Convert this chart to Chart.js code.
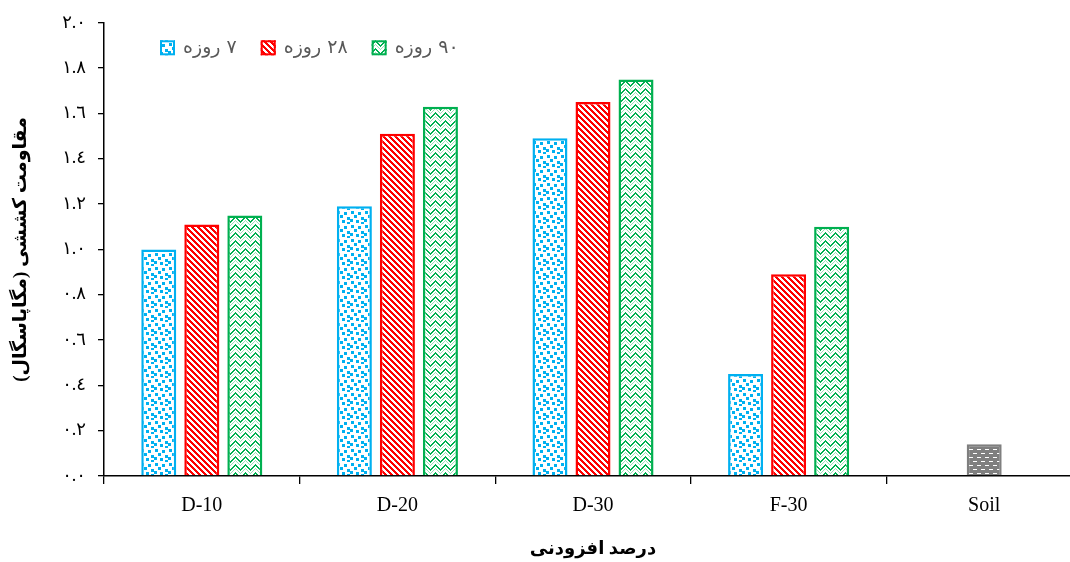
<!DOCTYPE html>
<html>
<head>
<meta charset="utf-8">
<script src="https://cdn.jsdelivr.net/npm/chart.js@4.4.1/dist/chart.umd.min.js"></script>
<style>
  html, body { margin: 0; padding: 0; background: #fff; overflow: hidden; }
  #wrap { width: 1090px; height: 562px; }
</style>
</head>
<body>
<div id="wrap"><canvas id="chart" width="1090" height="562"></canvas></div>
<script>
// tensile strength (MPa) by additive percent and curing age
const categories = ['D-10', 'D-20', 'D-30', 'F-30', 'Soil'];
const day7 = [1.00, 1.19, 1.49, 0.45, null];
const day28 = [1.11, 1.51, 1.65, 0.89, null];
const day90 = [1.15, 1.63, 1.75, 1.10, null];
const soil = [null, null, null, null, 0.14];
const seriesNames = ['٧ روزه', '٢٨ روزه', '٩٠ روزه', 'Soil'];
const arabicDigits = ['٠', '١', '٢', '٣', '٤', '٥', '٦', '٧', '٨', '٩'];

function toArabic(str) {
    return str.replace(/[0-9]/g, d => arabicDigits[+d]);
}

// small bitmap tiles used as bar fills
const helperCtx = document.createElement('canvas').getContext('2d');
function makePattern(w, h, bg, paint) {
    const c = document.createElement('canvas');
    c.width = w;
    c.height = h;
    const g = c.getContext('2d');
    g.fillStyle = bg;
    g.fillRect(0, 0, w, h);
    paint(g, w, h);
    return helperCtx.createPattern(c, 'repeat');
}

const confetti = makePattern(14, 14, '#ffffff', (g) => {
    g.fillStyle = '#00b0f0';
    [[1, 1], [8, 2], [4, 5], [11, 7], [0, 9], [6, 10], [11, 12]].forEach(p => {
        g.fillRect(p[0], p[1], 3, 3);
        if (p[0] + 3 > 14) g.fillRect(p[0] - 14, p[1], 3, 3);
    });
});

const stripes = makePattern(6, 6, '#ffffff', (g, w, h) => {
    g.fillStyle = '#ff0000';
    for (let y = 0; y < h; y++) {
        for (let x = 0; x < w; x++) {
            if (((x - y) % 6 + 6) % 6 < 3) g.fillRect(x, y, 1, 1);
        }
    }
});

const zigzag = makePattern(10, 8, '#ffffff', (g, w, h) => {
    for (let x = 0; x < w; x++) {
        const y0 = Math.abs(x - 5);
        g.fillStyle = '#00b050';
        g.fillRect(x, y0 % h, 1, 1);
        g.fillRect(x, (y0 + 1) % h, 1, 1);
        g.fillStyle = '#9ddfb7';
        g.fillRect(x, (y0 + 4) % h, 1, 1);
    }
});

const bricks = makePattern(8, 8, '#7f7f7f', (g) => {
    g.fillStyle = '#ffffff';
    g.fillRect(1, 1, 4, 1);
    g.fillRect(5, 5, 3, 1);
    g.fillRect(0, 5, 1, 1);
});

const fills = [confetti, stripes, zigzag, bricks];
const borders = ['#00b0f0', '#ff0000', '#00b050', '#7f7f7f'];
const values = [day7, day28, day90, soil];

// legend drawn inside the plot, near the top-left corner
const insideLegend = {
    id: 'insideLegend',
    afterDraw(chart) {
        const ctx = chart.ctx;
        const area = chart.chartArea;
        let x = area.left + 56;
        const y = area.top + 25;
        const box = 15;
        ctx.save();
        ctx.font = '19px "DejaVu Sans"';
        ctx.textBaseline = 'middle';
        ctx.textAlign = 'left';
        chart.data.datasets.slice(0, 3).forEach((ds) => {
            ctx.fillStyle = ds.backgroundColor;
            ctx.fillRect(x, y - box / 2, box, box);
            ctx.strokeStyle = ds.borderColor;
            ctx.lineWidth = 2;
            ctx.strokeRect(x + 1, y - box / 2 + 1, box - 2, box - 2);
            x += box + 8;
            ctx.fillStyle = '#595959';
            ctx.fillText(ds.label, x, y);
            x += ctx.measureText(ds.label).width + 24;
        });
        ctx.restore();
    }
};

new Chart('chart', {
    type: 'bar',
    data: {
        labels: categories,
        datasets: values.map((v, i) => ({
            label: seriesNames[i],
            data: v,
            backgroundColor: fills[i],
            borderColor: borders[i],
            borderWidth: 2.5,
            skipNull: true,
            categoryPercentage: 0.66,
            barPercentage: 0.814,
            maxBarThickness: 35
        }))
    },
    options: {
        responsive: false,
        animation: false,
        layout: { padding: { left: 8, top: 22, right: 8, bottom: 2 } },
        plugins: {
            legend: { display: false },
            tooltip: { enabled: false }
        },
        scales: {
            x: {
                grid: {
                    offset: true,
                    drawOnChartArea: false,
                    color: '#000',
                    tickLength: 8,
                    lineWidth: 1.3
                },
                border: { color: '#000', width: 1.5 },
                ticks: {
                    color: '#000',
                    padding: 10,
                    font: { family: '"Liberation Serif"', size: 20 }
                },
                title: {
                    display: true,
                    text: 'درصد افزودنی',
                    color: '#000',
                    padding: { top: 8, bottom: 0 },
                    font: { family: '"Liberation Serif", "DejaVu Sans"', size: 18, weight: 'bold' }
                },
                afterFit: (s) => { s.height = 562 - 476 - 2; }
            },
            y: {
                min: 0,
                max: 2,
                grid: {
                    drawOnChartArea: false,
                    color: '#000',
                    tickLength: 6,
                    lineWidth: 1.3
                },
                border: { color: '#000', width: 1.5 },
                ticks: {
                    stepSize: 0.2,
                    color: '#000',
                    padding: 12,
                    font: { family: '"Liberation Serif", "DejaVu Sans"', size: 18 },
                    callback: (v) => toArabic(v.toFixed(1))
                },
                title: {
                    display: true,
                    text: 'مقاومت کششی (مگاپاسگال)',
                    color: '#000',
                    padding: { top: 2, bottom: 0 },
                    font: { family: '"Liberation Serif", "DejaVu Sans"', size: 19, weight: 'bold' }
                },
                afterFit: (s) => { s.width = 104 - 8; }
            }
        }
    },
    plugins: [insideLegend]
});
</script>
</body>
</html>
